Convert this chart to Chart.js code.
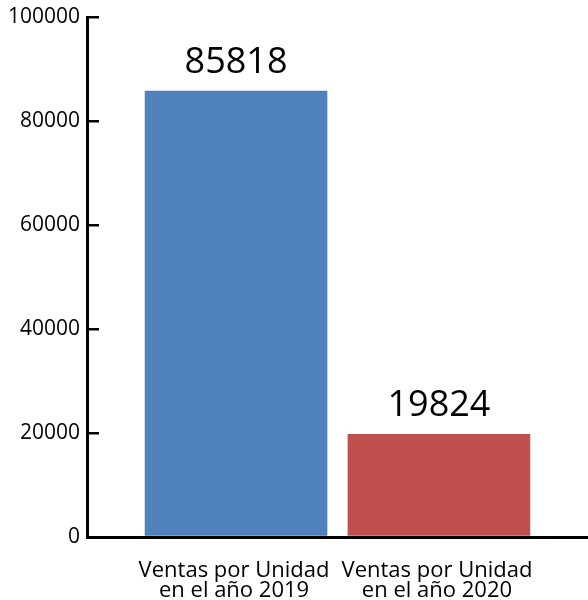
<!DOCTYPE html>
<html>
<head>
<meta charset="utf-8">
<script src="https://cdn.jsdelivr.net/npm/chart.js@4/dist/chart.umd.min.js"></script>
<style>
    html, body { margin: 0; padding: 0; background: #fff; }
    #wrap { width: 588px; height: 600px; }
</style>
</head>
<body>
<div id="wrap"><canvas id="ventasChart" width="588" height="600"></canvas></div>
<script>
// Data
const categories = [
    ['Ventas por Unidad', 'en el año 2019'],
    ['Ventas por Unidad', 'en el año 2020']
];
const values = [85818, 19824];
const colors = ['#4F81BD', '#C0504D'];
const yTicks = [0, 20000, 40000, 60000, 80000, 100000];

// Draws the value above each bar and the category text under it
const barLabels = {
    id: 'barLabels',
    afterDatasetsDraw(chart) {
        const ctx = chart.ctx;
        ctx.save();
        ctx.fillStyle = '#000';
        ctx.textAlign = 'center';
        ctx.textBaseline = 'alphabetic';
        chart.data.datasets.forEach((ds, i) => {
            const bar = chart.getDatasetMeta(i).data[0];
            ctx.font = '36px "Open Sans"';
            ctx.fillText(String(ds.data[0]), bar.x, bar.y - 18);

            ctx.font = '22px "Open Sans"';
            ds.label.forEach((line, j) => {
                ctx.fillText(line, bar.x - 2, chart.chartArea.bottom + 40 + j * 20);
            });
        });
        ctx.restore();
    }
};

const ctx = document.getElementById('ventasChart').getContext('2d');
new Chart(ctx, {
    type: 'bar',
    data: {
        labels: [''],
        datasets: values.map((v, i) => ({
            label: categories[i],
            data: [v],
            backgroundColor: colors[i],
            borderWidth: 0,
            categoryPercentage: 0.81,
            barPercentage: 0.9
        }))
    },
    options: {
        responsive: false,
        animation: false,
        layout: {
            padding: { top: 17, right: 0, bottom: 63, left: 0 }
        },
        plugins: {
            legend: { display: false },
            tooltip: { enabled: false }
        },
        scales: {
            x: {
                grid: { display: false, drawTicks: false },
                ticks: { display: false },
                border: { display: true, color: '#000', width: 3 }
            },
            y: {
                min: yTicks[0],
                max: yTicks[yTicks.length - 1],
                afterBuildTicks: scale => {
                    scale.ticks = yTicks.map(v => ({ value: v }));
                },
                afterFit: scale => {
                    scale.width = 87;
                    scale.paddingTop = 0;
                    scale.paddingBottom = 0;
                },
                grid: {
                    drawOnChartArea: false,
                    drawTicks: true,
                    tickLength: -12,
                    lineWidth: 2.5,
                    color: '#000'
                },
                border: { display: true, color: '#000', width: 3 },
                ticks: {
                    padding: 19,
                    color: '#000',
                    font: { family: '"Open Sans"', size: 21 },
                    callback: value => String(value)
                }
            }
        }
    },
    plugins: [barLabels]
});
</script>
</body>
</html>
